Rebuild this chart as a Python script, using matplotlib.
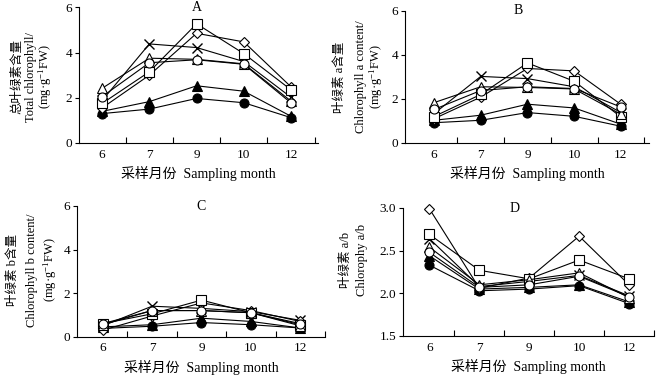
import numpy as np
import matplotlib
matplotlib.use('Agg')
import matplotlib.pyplot as plt

plt.rcParams['font.family'] = ['Liberation Serif', 'Noto Sans CJK SC']
plt.rcParams['mathtext.fontset'] = 'custom'
plt.rcParams['mathtext.rm'] = 'Liberation Serif'
plt.rcParams['mathtext.it'] = 'Liberation Serif:italic'

months = ['6', '7', '9', '10', '12']

# panel A - total chlorophyll
a_tri_open = [2.42, 3.75, 3.70, 3.50, 1.85]
a_square = [1.75, 3.15, 5.27, 3.95, 2.35]
a_diamond = [1.55, 3.00, 4.85, 4.47, 2.48]
a_cross = [1.88, 4.38, 4.22, 3.60, 2.02]
a_circle_open = [2.05, 3.55, 3.68, 3.48, 1.77]
a_tri_fill = [1.40, 1.83, 2.53, 2.29, 1.18]
a_circle_fill = [1.30, 1.50, 1.97, 1.78, 1.12]

# panel B - chlorophyll a
b_tri_open = [1.83, 2.55, 2.52, 2.45, 1.30]
b_square = [1.20, 2.20, 3.63, 2.80, 1.18]
b_diamond = [1.10, 2.08, 3.38, 3.27, 1.75]
b_cross = [1.33, 3.02, 2.92, 2.55, 1.38]
b_circle_open = [1.52, 2.38, 2.55, 2.47, 1.63]
b_tri_fill = [1.03, 1.26, 1.76, 1.59, 0.85]
b_circle_fill = [0.92, 1.03, 1.38, 1.21, 0.76]

# panel C - chlorophyll b
c_tri_open = [0.55, 1.20, 1.20, 1.10, 0.50]
c_square = [0.60, 1.05, 1.68, 1.10, 0.55]
c_diamond = [0.30, 0.95, 1.55, 1.20, 0.70]
c_cross = [0.50, 1.40, 1.30, 1.15, 0.75]
c_circle_open = [0.60, 1.20, 1.20, 1.10, 0.60]
c_tri_fill = [0.45, 0.55, 0.85, 0.70, 0.40]
c_circle_fill = [0.38, 0.48, 0.65, 0.55, 0.40]

# panel D - chlorophyll a/b
d_tri_open = [2.54, 2.10, 2.16, 2.24, 1.95]
d_square = [2.69, 2.27, 2.17, 2.39, 2.17]
d_diamond = [2.99, 2.06, 2.18, 2.67, 2.10]
d_cross = [2.64, 2.08, 2.14, 2.21, 1.97]
d_circle_open = [2.48, 2.07, 2.10, 2.20, 1.96]
d_tri_fill = [2.44, 2.05, 2.07, 2.10, 1.90]
d_circle_fill = [2.33, 2.03, 2.05, 2.09, 1.88]

W, H = 668, 380
fig = plt.figure(figsize=(W / 100, H / 100), dpi=100)


def px_axes(left, right, top, bottom):
    return fig.add_axes([left / W, 1 - bottom / H, (right - left) / W, (bottom - top) / H])


def draw_panel(ax, series, ylim, yticks, ytl, xlim, letter, letter_x):
    x = np.arange(len(months))
    styles = [
        dict(marker='o', mfc='black', ms=6.5),
        dict(marker='^', mfc='black', ms=6.5),
        dict(marker='x', mfc='none', ms=6.5, mew=1.0),
        dict(marker='D', mfc='white', ms=5),
        dict(marker='s', mfc='white', ms=6.5),
        dict(marker='^', mfc='white', ms=6.5),
        dict(marker='o', mfc='white', ms=6.5),
    ]
    for vals, st in zip(series, styles):
        ax.plot(x, vals, color='black', lw=0.8, mec='black', mew=st.pop('mew', 0.8),
                clip_on=False, **st)
    ax.set_xlim(*xlim)
    ax.set_ylim(*ylim)
    ax.set_yticks(yticks)
    ax.set_yticklabels(ytl, fontsize=9.5)
    ax.set_xticks(x)
    ax.set_xticklabels(months, fontsize=9.5)
    ax.set_xticks(np.arange(0.5, len(months), 1.0), minor=True)
    ax.tick_params(axis='x', which='major', length=0, pad=4)
    ax.tick_params(axis='x', which='minor', direction='in', length=4, width=0.8)
    ax.tick_params(axis='y', direction='out', length=3, width=0.8, pad=2)
    for s in ['top', 'right']:
        ax.spines[s].set_visible(False)
    for s in ['left', 'bottom']:
        ax.spines[s].set_linewidth(0.8)
    ax.set_xlabel('采样月份  Sampling month', fontsize=10, labelpad=4)
    ax.text(letter_x, ylim[1], letter, ha='center', va='center', fontsize=10)


axA = px_axes(79, 318, 7.3, 143)
draw_panel(axA, [a_circle_fill, a_tri_fill, a_cross, a_diamond, a_square, a_tri_open, a_circle_open],
           (0, 6), [0, 2, 4, 6], ['0', '2', '4', '6'], (-0.49, 4.57), 'A', 2.0)

axB = px_axes(405, 649, 10.7, 143)
draw_panel(axB, [b_circle_fill, b_tri_fill, b_cross, b_diamond, b_square, b_tri_open, b_circle_open],
           (0, 6), [0, 2, 4, 6], ['0', '2', '4', '6'], (-0.62, 4.6), 'B', 1.8)

axC = px_axes(77, 325, 206, 336.7)
draw_panel(axC, [c_circle_fill, c_tri_fill, c_cross, c_diamond, c_square, c_tri_open, c_circle_open],
           (0, 6), [0, 2, 4, 6], ['0', '2', '4', '6'], (-0.52, 4.5), 'C', 2.0)

axD = px_axes(403, 654, 208, 336)
draw_panel(axD, [d_circle_fill, d_tri_fill, d_cross, d_diamond, d_square, d_tri_open, d_circle_open],
           (1.5, 3.0), [1.5, 2.0, 2.5, 3.0], ['1.5', '2.0', '2.5', '3.0'], (-0.53, 4.49), 'D', 1.7)

unit = '(mg·g$^{-1}$FW)'


def ylab(xp, yp, s):
    fig.text(xp / W, 1 - yp / H, s, rotation=90, ha='center', va='center', fontsize=9)


ylab(17, 77, '总叶绿素含量')
ylab(31, 77, 'Total chlorophyll/')
ylab(45, 77, unit)

ylab(340, 77, '叶绿素 a含量')
ylab(361, 77, 'Chlorophyll a content/')
ylab(376, 77, unit)

ylab(13, 270, '叶绿素 b含量')
ylab(32, 270, 'Chlorophyll b content/')
ylab(50, 270, unit)

ylab(346, 260, '叶绿素 a/b')
ylab(362, 260, 'Chlorophy a/b')

fig.savefig('out.png', dpi=100)
